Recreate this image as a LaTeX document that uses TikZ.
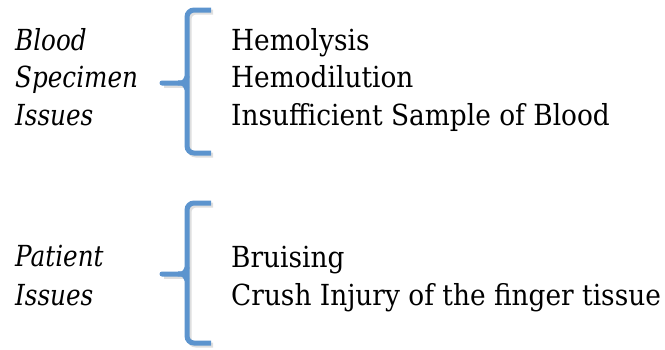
\documentclass[tikz,border=0pt]{standalone}
\usepackage{fontspec}
\setmainfont{DejaVu Serif}[FakeStretch=0.91,ItalicFeatures={FakeStretch=0.85}]
\usepackage{tikz}
\usetikzlibrary{calc,positioning}
\definecolor{braceblue}{RGB}{92,148,206}

\begin{document}
\begin{tikzpicture}[x=1pt,y=-1pt,
  brace/.style={draw=braceblue,line width=5pt,rounded corners=7pt},
  bshadow/.style={draw=black!25,line width=5pt,rounded corners=7pt,opacity=0.5},
  head/.style={anchor=base west,inner sep=0pt,font=\fontsize{29}{35}\selectfont\itshape},
  item/.style={anchor=base west,inner sep=0pt,font=\fontsize{29}{35}\selectfont}]
  \useasboundingbox (0,0) rectangle (665,349);

  % group 1
  \node[head] (blood) at (15,50) {Blood};
  \node[head] (spec) at (15,87) {Specimen};
  \node[head] (iss1) at (15,125) {Issues};
  \node[item] (hemo) at (231,50) {Hemolysis};
  \node[item] (dil) at (231,87) {Hemodilution};
  \node[item] (insuf) at (231,125) {Insufficient Sample of Blood};

  % group 2
  \node[head] (pat) at (15,266) {Patient};
  \node[head] (iss2) at (15,305) {Issues};
  \node[item] (bruise) at (231,267) {Bruising};
  \node[item] (crush) at (231,305) {Crush Injury of the finger tissue};

  % braces
  \foreach \t/\m/\b in {10/83/153, 203/274/343}{
    \draw[bshadow] (213,\t+2) -| (189,\b+2) -- (213,\b+2);
    \draw[bshadow] (164,\m+2) -- (189,\m+2);
    \draw[brace] (211,\t) -| (187,\b) -- (211,\b);
    \draw[draw=braceblue,line width=5pt,line cap=round]
      (162,\m) -- (178,\m) .. controls (184,\m) .. (187,\m-6);
    \draw[draw=braceblue,line width=5pt]
      (178,\m) .. controls (184,\m) .. (187,\m+6);
  }
\end{tikzpicture}
\end{document}
